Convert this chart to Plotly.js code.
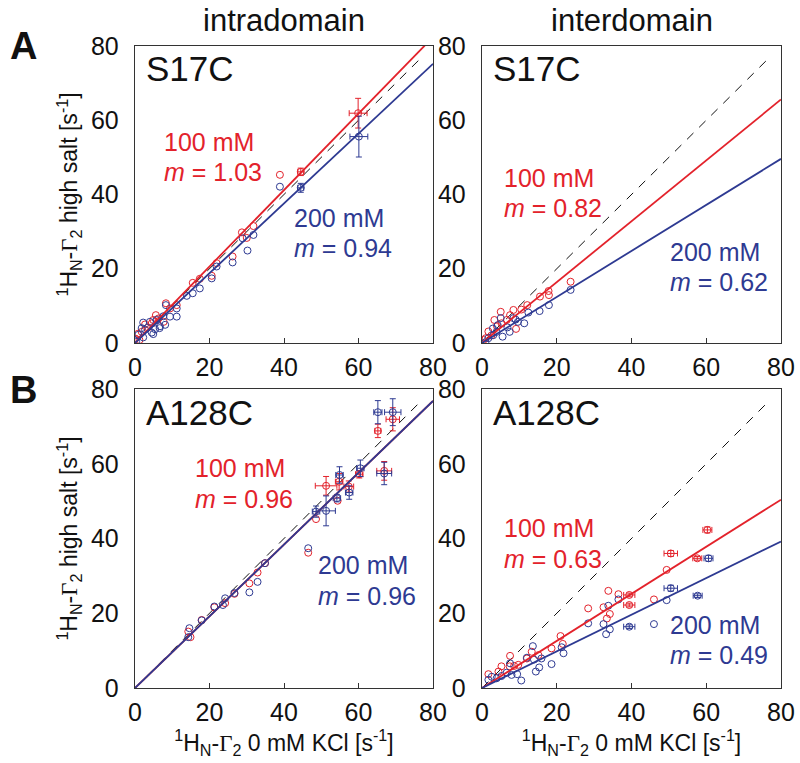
<!DOCTYPE html>
<html>
<head>
<meta charset="utf-8">
<script src="https://cdn.plot.ly/plotly-3.0.1.min.js"></script>
<style>html,body{margin:0;padding:0;background:#fff;}#chart{width:800px;height:763px;}</style>
</head>
<body>
<div id="chart"></div>
<script>
// ---------------- DATA ----------------
const columnTitles = ["intradomain", "interdomain"];
const rowLetters = ["A", "B"];
const mutants = ["S17C", "S17C", "A128C", "A128C"];
const salts = ["100 mM", "200 mM"];
const slope100 = [1.03, 0.82, 0.96, 0.63];
const slope200 = [0.94, 0.62, 0.96, 0.49];
const tickVals = [0, 20, 40, 60, 80];
const identityEnd = [0, 77];

// Panel A intradomain (S17C)
const aIntra100x = [0.1, 1.2, 2.7, 4.9, 7.7, 4.5, 5.6, 6.3, 8.3, 9.4, 11.2, 15.5, 17.4, 20.6, 21.9, 26.2, 28.7, 30.0, 31.8, 38.9, 0.8, 1.8, 3.5];
const aIntra100y = [1.2, 0.8, 5.0, 6.2, 5.7, 5.3, 7.5, 6.6, 10.7, 9.3, 10.2, 16.2, 17.3, 18.1, 21.5, 23.3, 29.8, 28.3, 31.5, 45.3, 2.5, 3.0, 4.2];
const aIntra100Ex = [59.9, 44.5], aIntra100Ey = [61.9, 46.1], aIntra100Errx = [2.4, 0.8], aIntra100Erry = [4.0, 1.0];
const aIntra200x = [0.3, 0.9, 1.8, 2.2, 2.2, 2.7, 4.0, 4.9, 6.6, 8.1, 4.5, 5.4, 6.7, 5.8, 7.6, 9.4, 8.3, 11.2, 11.2, 13.9, 15.5, 17.4, 20.6, 21.9, 26.2, 28.9, 30.2, 31.8, 38.9];
const aIntra200y = [0.4, 2.2, 4.0, 5.5, 1.5, 3.6, 5.7, 2.4, 4.0, 4.9, 2.8, 3.7, 4.5, 6.2, 7.2, 7.1, 10.2, 7.1, 9.3, 12.7, 13.4, 14.7, 17.4, 20.6, 21.7, 28.2, 24.9, 29.1, 42.1];
const aIntra200Ex = [60.1, 44.5], aIntra200Ey = [55.6, 41.8], aIntra200Errx = [2.4, 0.8], aIntra200Erry = [5.5, 1.2];

// Panel A interdomain (S17C)
const aInter100x = [1.0, 1.7, 3.3, 5.0, 5.2, 6.6, 8.4, 9.1, 12.1, 15.5, 17.8, 17.9, 23.7, 0.4, 2.5, 4.0, 7.5, 10.5];
const aInter100y = [1.3, 3.1, 6.2, 8.4, 5.3, 6.2, 8.9, 3.8, 10.2, 12.5, 14.0, 12.9, 16.5, 0.8, 2.0, 4.5, 7.5, 9.0];
const aInter200x = [0.9, 1.7, 3.0, 2.9, 3.9, 4.2, 5.0, 5.5, 6.8, 7.4, 8.4, 9.0, 9.6, 11.3, 12.4, 15.4, 17.9, 23.7];
const aInter200y = [0.2, 1.3, 2.1, 3.9, 3.0, 4.8, 6.7, 1.7, 4.2, 3.0, 6.7, 6.3, 5.7, 5.3, 8.2, 8.6, 10.2, 14.3];

// Panel B intradomain (A128C)
const bIntra100x = [14.3, 14.9, 17.9, 21.3, 24.2, 26.7, 30.7, 32.9, 34.9, 46.5, 48.6, 54.4];
const bIntra100y = [15.1, 13.6, 18.2, 21.6, 22.7, 25.2, 28.0, 30.9, 33.4, 36.2, 45.2, 50.1];
const bIntra100Ex = [69.2, 65.2, 66.9, 51.3, 54.8, 57.4, 60.2], bIntra100Ey = [71.9, 68.8, 58.1, 54.1, 55.2, 53.9, 57.2];
const bIntra100Errx = [1.8, 0.8, 2.0, 2.9, 1.0, 1.3, 1.0], bIntra100Erry = [3.1, 1.8, 2.5, 2.5, 2.2, 1.5, 1.0];
const bIntra200x = [14.3, 14.6, 17.9, 21.3, 23.6, 24.2, 26.7, 30.7, 32.9, 34.9, 46.5];
const bIntra200y = [13.6, 16.0, 18.1, 21.8, 22.2, 24.0, 25.4, 25.6, 28.4, 33.4, 37.4];
const bIntra200Ex = [65.2, 69.2, 66.9, 60.5, 54.9, 57.5, 51.3, 48.6, 54.2], bIntra200Ey = [73.8, 73.8, 57.4, 58.8, 57.0, 52.3, 47.4, 47.2, 50.8];
const bIntra200Errx = [1.1, 2.2, 2.0, 1.0, 1.0, 1.0, 2.5, 1.0, 1.0], bIntra200Erry = [3.1, 3.6, 3.0, 2.2, 2.2, 1.8, 4.0, 1.5, 1.0];

// Panel B interdomain (A128C)
const bInter100x = [1.7, 4.4, 5.2, 7.4, 7.5, 8.6, 9.7, 12.0, 13.3, 15.1, 18.6, 21.0, 21.6, 28.4, 32.5, 33.4, 33.8, 34.2, 36.5, 46.0, 49.4];
const bInter100y = [3.7, 4.4, 5.8, 5.8, 8.6, 5.9, 6.2, 7.9, 9.7, 8.8, 10.6, 13.9, 11.8, 21.3, 21.6, 18.6, 26.0, 19.8, 25.1, 23.7, 31.6];
const bInter100Ex = [60.3, 50.5, 57.6, 39.4, 39.4], bInter100Ey = [42.3, 36.0, 34.7, 24.9, 22.2];
const bInter100Errx = [1.2, 1.8, 1.2, 1.5, 1.5], bInter100Erry = [0.8, 0.8, 0.5, 0.5, 0.5];
const bInter200x = [1.7, 2.6, 3.9, 5.2, 6.6, 7.5, 7.9, 9.4, 10.5, 12.0, 13.6, 13.9, 14.4, 15.3, 15.9, 18.6, 21.3, 21.8, 28.4, 32.5, 33.2, 33.8, 34.2, 36.5, 46.0, 49.4];
const bInter200y = [2.2, 3.0, 2.6, 3.2, 4.1, 6.6, 3.5, 3.7, 2.0, 8.1, 11.2, 7.6, 4.4, 5.5, 7.9, 6.4, 10.9, 9.3, 17.3, 17.1, 14.4, 22.0, 15.7, 23.7, 17.1, 23.5];
const bInter200Ex = [60.6, 50.5, 57.7, 39.4], bInter200Ey = [34.7, 26.7, 24.7, 16.4];
const bInter200Errx = [1.2, 1.8, 1.2, 1.5], bInter200Erry = [0.8, 0.8, 0.5, 0.5];

// ---------------- STYLE ----------------
const RED = "#e3222b", BLUE = "#2e3a92";
const FONT = "Liberation Sans, Arial, sans-serif";
const axSuffix = ["", "2", "3", "4"];

function pts(x, y, color, s, ex, ey) {
  const t = {type: "scatter", mode: "markers", x: x, y: y,
    xaxis: "x" + axSuffix[s], yaxis: "y" + axSuffix[s], showlegend: false,
    marker: {symbol: "circle-open", size: 7, color: color, line: {width: 1, color: color}}};
  if (ex) {
    t.error_x = {type: "data", array: ex, color: color, thickness: 1, width: 3};
    t.error_y = {type: "data", array: ey, color: color, thickness: 1, width: 3};
  }
  return t;
}
function fitLine(m, color, s) {
  return {type: "scatter", mode: "lines", x: [tickVals[0], tickVals[4]], y: [0, m * tickVals[4]],
    xaxis: "x" + axSuffix[s], yaxis: "y" + axSuffix[s], showlegend: false, hoverinfo: "skip",
    line: {color: color, width: 1.8}};
}
function diag(s) {
  return {type: "scatter", mode: "lines", x: identityEnd, y: identityEnd,
    xaxis: "x" + axSuffix[s], yaxis: "y" + axSuffix[s], showlegend: false, hoverinfo: "skip",
    line: {color: "#111", width: 1, dash: "9px,8px"}};
}

const traces = [];
traces.push(diag(0),
  pts(aIntra100x, aIntra100y, RED, 0), pts(aIntra100Ex, aIntra100Ey, RED, 0, aIntra100Errx, aIntra100Erry),
  pts(aIntra200x, aIntra200y, BLUE, 0), pts(aIntra200Ex, aIntra200Ey, BLUE, 0, aIntra200Errx, aIntra200Erry),
  fitLine(slope100[0], RED, 0), fitLine(slope200[0], BLUE, 0));
traces.push(diag(1),
  pts(aInter100x, aInter100y, RED, 1), pts(aInter200x, aInter200y, BLUE, 1),
  fitLine(slope100[1], RED, 1), fitLine(slope200[1], BLUE, 1));
traces.push(diag(2),
  pts(bIntra100x, bIntra100y, RED, 2), pts(bIntra100Ex, bIntra100Ey, RED, 2, bIntra100Errx, bIntra100Erry),
  pts(bIntra200x, bIntra200y, BLUE, 2), pts(bIntra200Ex, bIntra200Ey, BLUE, 2, bIntra200Errx, bIntra200Erry),
  fitLine(slope100[2], RED, 2), fitLine(slope200[2], BLUE, 2));
traces.push(diag(3),
  pts(bInter100x, bInter100y, RED, 3), pts(bInter100Ex, bInter100Ey, RED, 3, bInter100Errx, bInter100Erry),
  pts(bInter200x, bInter200y, BLUE, 3), pts(bInter200Ex, bInter200Ey, BLUE, 3, bInter200Errx, bInter200Erry),
  fitLine(slope100[3], RED, 3), fitLine(slope200[3], BLUE, 3));

const G = "<span style=\"font-family:'Liberation Serif',serif\">Γ</span>";
const yTitle = "<sup>1</sup>H<sub>N</sub>-" + G + "<sub>2</sub> high salt [s<sup>-1</sup>]";
const xTitle = "<sup>1</sup>H<sub>N</sub>-" + G + "<sub>2</sub> 0 mM KCl [s<sup>-1</sup>]";

function xax(domain, anchor, showTitle) {
  const a = {domain: domain, anchor: anchor, range: [0, 80], tickvals: tickVals, ticks: "inside", ticklen: 5,
    tickcolor: "#333", showline: true, mirror: true, linecolor: "#333", linewidth: 1.3,
    showgrid: false, zeroline: false, fixedrange: true, ticklabelstandoff: 2,
    tickfont: {size: 25, color: "#111", family: FONT}};
  if (showTitle) a.title = {text: xTitle, font: {size: 23, color: "#111", family: FONT}, standoff: 4};
  return a;
}
function yax(domain, anchor, showTitle) {
  const a = {domain: domain, anchor: anchor, range: [0, 80], tickvals: tickVals, ticks: "",
    showline: true, mirror: true, linecolor: "#333", linewidth: 1.3,
    showgrid: false, zeroline: false, fixedrange: true, ticklabelstandoff: 10,
    tickfont: {size: 25, color: "#111", family: FONT}};
  if (showTitle) a.title = {text: yTitle, font: {size: 23, color: "#111", family: FONT}, standoff: 6};
  return a;
}

const X1 = [0, 0.4613], X2 = [0.5372, 1];
const YT = [0.5374, 1], YB = [0, 0.4657];

const annotations = [];
const annX100 = [7.2, 5.4, 15.6, 5.4], annY100 = [54.1, 44.4, 58.9, 42.8];
const annX200 = [42.1, 49.8, 48.6, 49.8], annY200 = [33.7, 24.5, 32.9, 16.9];
const lineGap = [8.0, 8.0, 8.2, 8.2];
for (let s = 0; s < 4; s++) {
  const xr = "x" + axSuffix[s], yr = "y" + axSuffix[s];
  annotations.push({xref: xr, yref: yr, x: annX100[s], y: annY100[s], text: salts[0], showarrow: false,
    xanchor: "left", yanchor: "middle", font: {size: 25, color: RED, family: FONT}});
  annotations.push({xref: xr, yref: yr, x: annX100[s], y: annY100[s] - lineGap[s], text: "<i>m</i> = " + slope100[s].toFixed(2), showarrow: false,
    xanchor: "left", yanchor: "middle", font: {size: 25, color: RED, family: FONT}});
  annotations.push({xref: xr, yref: yr, x: annX200[s], y: annY200[s], text: salts[1], showarrow: false,
    xanchor: "left", yanchor: "middle", font: {size: 25, color: BLUE, family: FONT}});
  annotations.push({xref: xr, yref: yr, x: annX200[s], y: annY200[s] - lineGap[s], text: "<i>m</i> = " + slope200[s].toFixed(2), showarrow: false,
    xanchor: "left", yanchor: "middle", font: {size: 25, color: BLUE, family: FONT}});
  annotations.push({xref: xr + " domain", yref: yr + " domain", x: 0.03, y: 0.995, text: mutants[s], showarrow: false,
    xanchor: "left", yanchor: "top", font: {size: 35, color: "#111", family: FONT}});
}
annotations.push({xref: "paper", yref: "paper", x: (X1[0] + X1[1]) / 2, y: 1.0 + 26 / 642, text: columnTitles[0], showarrow: false,
  xanchor: "center", yanchor: "middle", font: {size: 31, color: "#111", family: FONT}});
annotations.push({xref: "paper", yref: "paper", x: (X2[0] + X2[1]) / 2, y: 1.0 + 26 / 642, text: columnTitles[1], showarrow: false,
  xanchor: "center", yanchor: "middle", font: {size: 31, color: "#111", family: FONT}});
annotations.push({xref: "paper", yref: "paper", x: -111 / 646, y: 1.0, text: "<b>" + rowLetters[0] + "</b>", showarrow: false,
  xanchor: "center", yanchor: "middle", font: {size: 38, color: "#111", family: FONT}});
annotations.push({xref: "paper", yref: "paper", x: -111 / 646, y: (688 - 390) / 642, text: "<b>" + rowLetters[1] + "</b>", showarrow: false,
  xanchor: "center", yanchor: "middle", font: {size: 38, color: "#111", family: FONT}});

const layout = {
  width: 800, height: 763,
  margin: {l: 135, r: 19, t: 46, b: 75},
  paper_bgcolor: "#fff", plot_bgcolor: "#fff",
  font: {family: FONT, color: "#111"},
  showlegend: false,
  xaxis: xax(X1, "y", false), yaxis: yax(YT, "x", true),
  xaxis2: xax(X2, "y2", false), yaxis2: yax(YT, "x2", false),
  xaxis3: xax(X1, "y3", true), yaxis3: yax(YB, "x3", true),
  xaxis4: xax(X2, "y4", true), yaxis4: yax(YB, "x4", false),
  annotations: annotations
};

Plotly.newPlot("chart", traces, layout, {displayModeBar: false, staticPlot: true});
</script>
</body>
</html>
